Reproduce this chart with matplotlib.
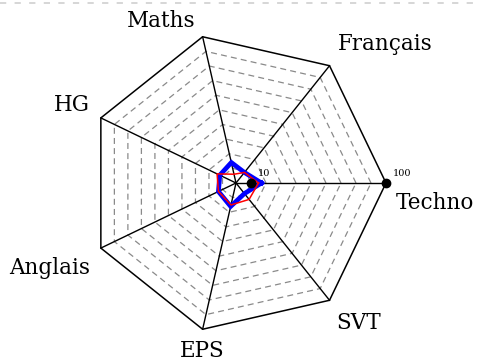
import numpy as np
import matplotlib
matplotlib.use("Agg")
import matplotlib.pyplot as plt
from matplotlib.lines import Line2D

# matières (sens trigo à partir de Techno)
subjects = ["Techno", "Français", "Maths", "HG", "Anglais", "EPS", "SVT"]
blue_vals = [17, 9, 14, 12, 13, 16, 9]
red_vals = [15, 9, 6, 14, 13, 15, 14]
grid_levels = [10, 20, 30, 40, 50, 60, 70, 80, 90]
scale_ticks = [10, 100]
R_MAX = 100

# placement des étiquettes : décalage (px) + alignement
label_style = {
    "Techno":   ((10, -9), "left", "top"),
    "Français": ((8, 16), "left", "baseline"),
    "Maths":    ((-7, 10), "right", "baseline"),
    "HG":       ((-11, 7), "right", "baseline"),
    "Anglais":  ((-11, -9), "right", "top"),
    "EPS":      ((0, -11), "center", "top"),
    "SVT":      ((7, -12), "left", "top"),
}

plt.rcParams["lines.scale_dashes"] = False
plt.rcParams["font.family"] = "DejaVu Serif"

W, H, DPI = 480, 363, 100
fig = plt.figure(figsize=(W / DPI, H / DPI), dpi=DPI)
ax = fig.add_axes([0, 0, 1, 1])
ax.set_axis_off()

# 1.5 px par unité, centre en (236, 183) px
PX = 1.5
cx, cy = 236, 183
ax.set_xlim(-cx / PX, (W - cx) / PX)
ax.set_ylim(-(H - cy) / PX, cy / PX)

n = len(subjects)
ang = np.arange(n) * 2 * np.pi / n
ux, uy = np.cos(ang), np.sin(ang)


def poly(vals):
    v = np.asarray(vals, float)
    x, y = v * ux, v * uy
    return np.append(x, x[0]), np.append(y, y[0])


# grille pointillée
for lv in grid_levels:
    x, y = poly([lv] * n)
    ax.plot(x, y, color="#8a8a8a", lw=0.9, ls=(0, (4.3, 3.0)), zorder=1)

# contour + rayons
x, y = poly([R_MAX] * n)
ax.plot(x, y, color="black", lw=1.1, zorder=2)
for i in range(n):
    ax.plot([0, R_MAX * ux[i]], [0, R_MAX * uy[i]], color="black", lw=1.0, zorder=2)

# séries
x, y = poly(blue_vals)
ax.plot(x, y, color="blue", lw=3.4, solid_joinstyle="miter", zorder=3)
x, y = poly(red_vals)
ax.plot(x, y, color="red", lw=1.1, zorder=4)

# graduations sur l'axe Techno
for t in scale_ticks:
    ax.plot(t * ux[0], t * uy[0], "o", color="black", ms=6, zorder=5)
    ax.annotate(str(t), (t * ux[0], t * uy[0]), xytext=(5, 3.5),
                textcoords="offset points", fontsize=7, ha="left", va="bottom")

# noms des matières
for i, s in enumerate(subjects):
    (dx, dy), ha, va = label_style[s]
    ax.annotate(s, (R_MAX * ux[i], R_MAX * uy[i]), xytext=(dx * 0.72, dy * 0.72),
                textcoords="offset points", fontsize=15.5, ha=ha, va=va)

# trait pointillé gris en haut de page
fig.add_artist(Line2D([0, 1], [1 - 2.5 / H, 1 - 2.5 / H], color="#d0d0d0",
                      lw=1.2, ls=(0, (4.5, 6.0))))

fig.savefig("out.png", dpi=DPI)
